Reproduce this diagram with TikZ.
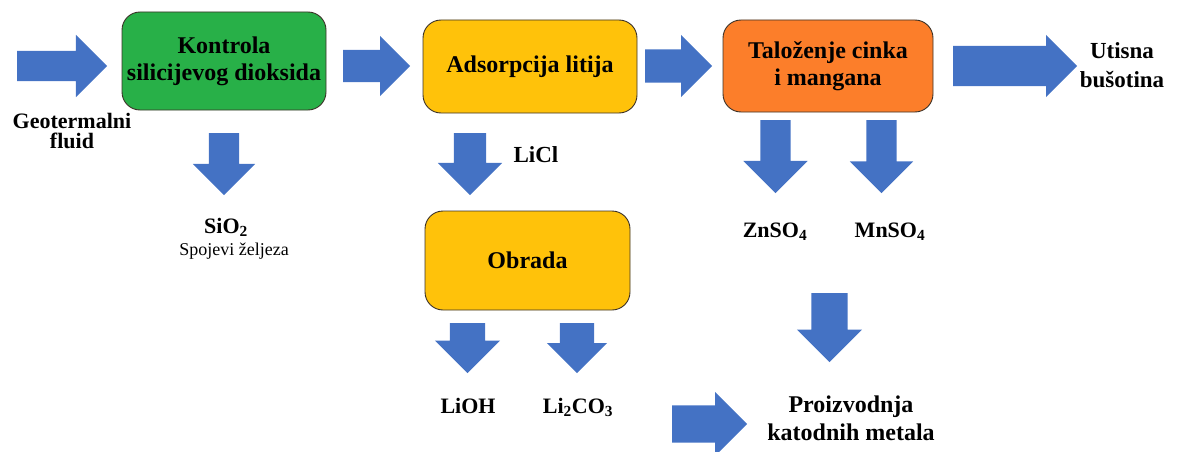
\documentclass[tikz,border=0pt]{standalone}
\usepackage{fontspec}
\setmainfont{Liberation Serif}
\usetikzlibrary{shapes.arrows}

\definecolor{arrowblue}{RGB}{68,114,196}
\definecolor{boxgreen}{RGB}{40,176,72}
\definecolor{boxyellow}{RGB}{255,194,10}
\definecolor{boxorange}{RGB}{252,126,42}
\definecolor{boxline}{RGB}{60,50,40}

\tikzset{
	box/.style = {draw=boxline, line width=0.9pt, rounded corners=18pt, align=center, inner sep=0pt, font=\fontsize{24}{27}\selectfont\bfseries},
	flow/.style = {single arrow, fill=arrowblue, draw=none, anchor=tail, inner xsep=0pt, single arrow tip angle=90, single arrow head indent=0pt},
	lbl/.style = {align=center, inner sep=0pt, font=\fontsize{22}{20}\selectfont\bfseries}
}

\begin{document}
\begin{tikzpicture}[x=1pt, y=-1pt]
		\useasboundingbox (0,0) rectangle (1180,452);
		\node[box, fill=boxgreen, minimum width=204pt, minimum height=98pt] (silica) at (224,61) {Kontrola\\silicijevog dioksida};
		\node[box, fill=boxyellow, minimum width=214pt, minimum height=93pt] (adsorb) at (530,66.5) {Adsorpcija litija};
		\node[box, fill=boxorange, minimum width=210pt, minimum height=92pt] (zinc) at (828,66) {Taloženje cinka\\ i mangana};
		\node[box, fill=boxyellow, minimum width=205pt, minimum height=99pt] (obrada) at (527.5,260.5) {Obrada};
		\node[flow, minimum height=90pt, inner ysep=15pt, single arrow head extend=16pt] (inflow) at (17,66) {};
		\node[flow, minimum height=67pt, inner ysep=16pt, single arrow head extend=14pt] (toadsorb) at (343,66) {};
		\node[flow, minimum height=67pt, inner ysep=16.5pt, single arrow head extend=14.5pt] (tozinc) at (645,66) {};
		\node[flow, minimum height=124pt, inner ysep=20pt, single arrow head extend=11pt] (outflow) at (953,66) {};
		\node[flow, rotate=-90, minimum height=62pt, inner ysep=15pt, single arrow head extend=16pt] (silicaout) at (224,133) {};
		\node[flow, rotate=-90, minimum height=62pt, inner ysep=16pt, single arrow head extend=16pt] (liclout) at (470,133) {};
		\node[flow, rotate=-90, minimum height=73pt, inner ysep=15pt, single arrow head extend=17pt] (znout) at (775.5,120) {};
		\node[flow, rotate=-90, minimum height=73pt, inner ysep=15pt, single arrow head extend=16.5pt] (mnout) at (881.5,120) {};
		\node[flow, rotate=-90, minimum height=50pt, inner ysep=17.5pt, single arrow head extend=15pt] (liohout) at (467.5,323) {};
		\node[flow, rotate=-90, minimum height=50pt, inner ysep=17pt, single arrow head extend=13pt] (licoout) at (577,323) {};
		\node[flow, rotate=-90, minimum height=69pt, inner ysep=18pt, single arrow head extend=14.5pt] (metalin) at (829.5,293) {};
		\node[flow, minimum height=75pt, inner ysep=18.5pt, single arrow head extend=13.5pt] (lithin) at (672,424) {};
		\node[lbl] (geo) at (72,131) {Geotermalni\\fluid};
		\node[lbl, font=\fontsize{23}{29}\selectfont\bfseries] (inject) at (1122,65) {Utisna\\bušotina};
		\node[lbl] (sio) at (226,227) {SiO\textsubscript{2}};
		\node[lbl, font=\fontsize{18}{20}\selectfont] (iron) at (234,251) {Spojevi željeza};
		\node[lbl, font=\fontsize{23}{24}\selectfont\bfseries] (licl) at (536,155) {LiCl};
		\node[lbl] (znso) at (775,232) {ZnSO\textsubscript{4}};
		\node[lbl] (mnso) at (890,232) {MnSO\textsubscript{4}};
		\node[lbl] (lioh) at (468,406) {LiOH};
		\node[lbl] (lico) at (578,407) {Li\textsubscript{2}CO\textsubscript{3}};
		\node[lbl, font=\fontsize{24}{28}\selectfont\bfseries] (cathode) at (851,418) {Proizvodnja\\katodnih metala};
	\end{tikzpicture}
\end{document}
